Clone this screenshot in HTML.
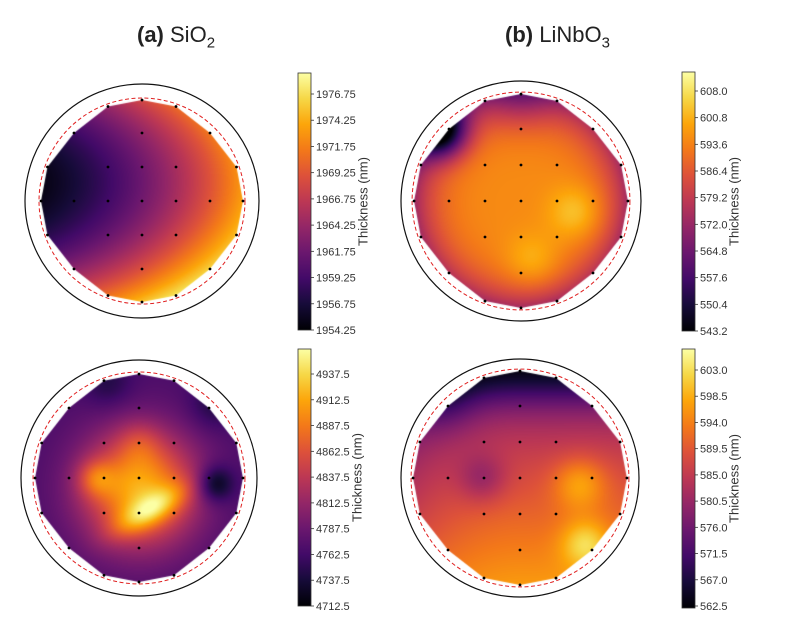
<!DOCTYPE html>
<html><head><meta charset="utf-8"><style>
html,body{margin:0;padding:0;background:#fff;}
#wrap{position:relative;width:800px;height:620px;overflow:hidden;font-family:"Liberation Sans",sans-serif;}
canvas,svg{position:absolute;left:0;top:0;}
.t{position:absolute;top:22px;font-size:22px;color:#222;white-space:nowrap;}
</style></head><body>
<div id="wrap">
<canvas id="c" width="800" height="620"></canvas>
<svg id="s" width="800" height="620" xmlns="http://www.w3.org/2000/svg">
<defs><linearGradient id="inf" x1="0" y1="1" x2="0" y2="0">
<stop offset="0" stop-color="#000004"/><stop offset="0.1" stop-color="#160b39"/><stop offset="0.2" stop-color="#420a68"/><stop offset="0.3" stop-color="#6a176e"/><stop offset="0.4" stop-color="#932667"/><stop offset="0.5" stop-color="#bc3754"/><stop offset="0.6" stop-color="#dd513a"/><stop offset="0.7" stop-color="#f37819"/><stop offset="0.8" stop-color="#fca50a"/><stop offset="0.9" stop-color="#f6d746"/><stop offset="1" stop-color="#fcffa4"/>
</linearGradient></defs>
</svg>
<div class="t" style="left:137px;"><b>(a)</b> SiO<sub style="font-size:15px">2</sub></div>
<div class="t" style="left:505px;"><b>(b)</b> LiNbO<sub style="font-size:15px">3</sub></div>
</div>
<script>
var INF=[[0,0,4],[22,11,57],[66,10,104],[106,23,110],[147,38,103],[188,55,84],[221,81,58],[243,120,25],[252,165,10],[246,215,70],[252,255,164]];
function cmap(t){t=Math.max(0,Math.min(1,t));var x=t*10,i=Math.min(9,Math.floor(x)),f=x-i,a=INF[i],b=INF[i+1];
return [a[0]+(b[0]-a[0])*f,a[1]+(b[1]-a[1])*f,a[2]+(b[2]-a[2])*f];}
function g(u,v,x,y,s){return Math.exp(-((u-x)*(u-x)+(v-y)*(v-y))/s);}
function fA(u,v){return 0.32+0.38*u+0.15*v+0.4*v*v+0.1*u*u;}
function fB(u,v){var r2=u*u+v*v;return 0.74-0.33*r2*r2+0.13*g(u,v,0.5,0.1,0.06)+0.1*g(u,v,0.1,0.55,0.06)-0.6*g(u,v,-0.75,-0.65,0.06)-0.15*g(u,v,0,-1,0.1);}
function fC(u,v){var d=(u-0.1)*0.5+(v-0.3)*0.85, e=(u-0.1)*0.85-(v-0.3)*0.5;
return 0.22+0.6*g(u,v,0,0.1,0.3)+0.28*Math.exp(-d*d/0.02-e*e/0.15)+0.2*g(u,v,-0.42,0,0.03)+0.1*g(u,v,0,-0.35,0.04)-0.25*g(u,v,0.72,0.05,0.03)-0.1*g(u,v,0.7,-0.7,0.05)-0.1*g(u,v,-0.3,-0.9,0.05);}
function fD(u,v){return 0.58+0.2*v-0.25*Math.exp(-(v+1)*(v+1)/0.1)-0.1*(v<0?v*v:0)+0.22*g(u,v,0.6,0.6,0.05)+0.2*g(u,v,0.55,0.05,0.06)-0.15*g(u,v,-0.35,0,0.05)-(u<0?0.12*u*u:0)-0.1*g(u,v,-0.7,-0.7,0.08);}
var P=[
{cx:142,cy:201,s:34,ro:117,f:fA,bx:298,by0:73,by1:330,top:94,bot:330,off:66,lab:["1976.75","1974.25","1971.75","1969.25","1966.75","1964.25","1961.75","1959.25","1956.75","1954.25"]},
{cx:521,cy:201,s:36,ro:120,f:fB,bx:682,by0:72,by1:331,top:91,bot:331,off:53,lab:["608.0","600.8","593.6","586.4","579.2","572.0","564.8","557.6","550.4","543.2"]},
{cx:139,cy:478,s:35,ro:118,f:fC,bx:298,by0:349,by1:606,top:374,bot:606,off:60,lab:["4937.5","4912.5","4887.5","4862.5","4837.5","4812.5","4787.5","4762.5","4737.5","4712.5"]},
{cx:520,cy:478,s:36,ro:119,f:fD,bx:682,by0:349,by1:608,top:370,bot:606,off:53,lab:["603.0","598.5","594.0","589.5","585.0","580.5","576.0","571.5","567.0","562.5"]}];
var B=[[0,-2.97],[1,-2.78],[2,-2],[2.78,-1],[2.97,0],[2.78,1],[2,2],[1,2.78],[0,2.97],[-1,2.78],[-2,2],[-2.78,1],[-2.97,0],[-2.78,-1],[-2,-2],[-1,-2.78]];
var I=[[0,-2],[-1,-1],[0,-1],[1,-1],[-2,0],[-1,0],[0,0],[1,0],[2,0],[-1,1],[0,1],[1,1],[0,2]];
var ctx=document.getElementById('c').getContext('2d'),svg=document.getElementById('s'),h='';
P.forEach(function(p){
 var R=Math.ceil(3*p.s)+2,w=2*R,img=ctx.createImageData(w,w);
 for(var y=0;y<w;y++)for(var x=0;x<w;x++){var u=(x-R)/(3*p.s),v=(y-R)/(3*p.s),c=cmap(p.f(u,v)),k=(y*w+x)*4;img.data[k]=c[0];img.data[k+1]=c[1];img.data[k+2]=c[2];img.data[k+3]=255;}
 var tmp=document.createElement('canvas');tmp.width=w;tmp.height=w;tmp.getContext('2d').putImageData(img,0,0);
 ctx.save();ctx.beginPath();B.forEach(function(b,i){var X=p.cx+b[0]*p.s,Y=p.cy+b[1]*p.s;i?ctx.lineTo(X,Y):ctx.moveTo(X,Y);});ctx.closePath();ctx.clip();
 ctx.drawImage(tmp,p.cx-R,p.cy-R);ctx.restore();
 h+='<circle cx="'+p.cx+'" cy="'+p.cy+'" r="'+p.ro+'" fill="none" stroke="#111" stroke-width="1.2"/>';
 h+='<circle cx="'+p.cx+'" cy="'+p.cy+'" r="'+(2.97*p.s+2)+'" fill="none" stroke="#e02020" stroke-width="1" stroke-dasharray="4,2.5"/>';
 B.concat(I).forEach(function(b){h+='<circle cx="'+(p.cx+b[0]*p.s)+'" cy="'+(p.cy+b[1]*p.s)+'" r="1.4" fill="#000"/>';});
 h+='<rect x="'+p.bx+'" y="'+p.by0+'" width="13" height="'+(p.by1-p.by0)+'" fill="url(#inf)" stroke="#333" stroke-width="0.8"/>';
 for(var i=0;i<10;i++){var ty=p.top+(p.bot-p.top)*i/9;
  h+='<line x1="'+(p.bx+13)+'" x2="'+(p.bx+16)+'" y1="'+ty+'" y2="'+ty+'" stroke="#333" stroke-width="0.8"/>';
  h+='<text x="'+(p.bx+18)+'" y="'+(ty+4)+'" font-size="11" fill="#333" font-family="Liberation Sans, sans-serif">'+p.lab[i]+'</text>';}
 var lx=p.bx+p.off,ly=(p.by0+p.by1)/2;
 h+='<text x="'+lx+'" y="'+ly+'" font-size="13" fill="#333" text-anchor="middle" dominant-baseline="middle" transform="rotate(-90 '+lx+' '+ly+')" font-family="Liberation Sans, sans-serif">Thickness (nm)</text>';
});
svg.insertAdjacentHTML('beforeend',h);
</script>
</body></html>
